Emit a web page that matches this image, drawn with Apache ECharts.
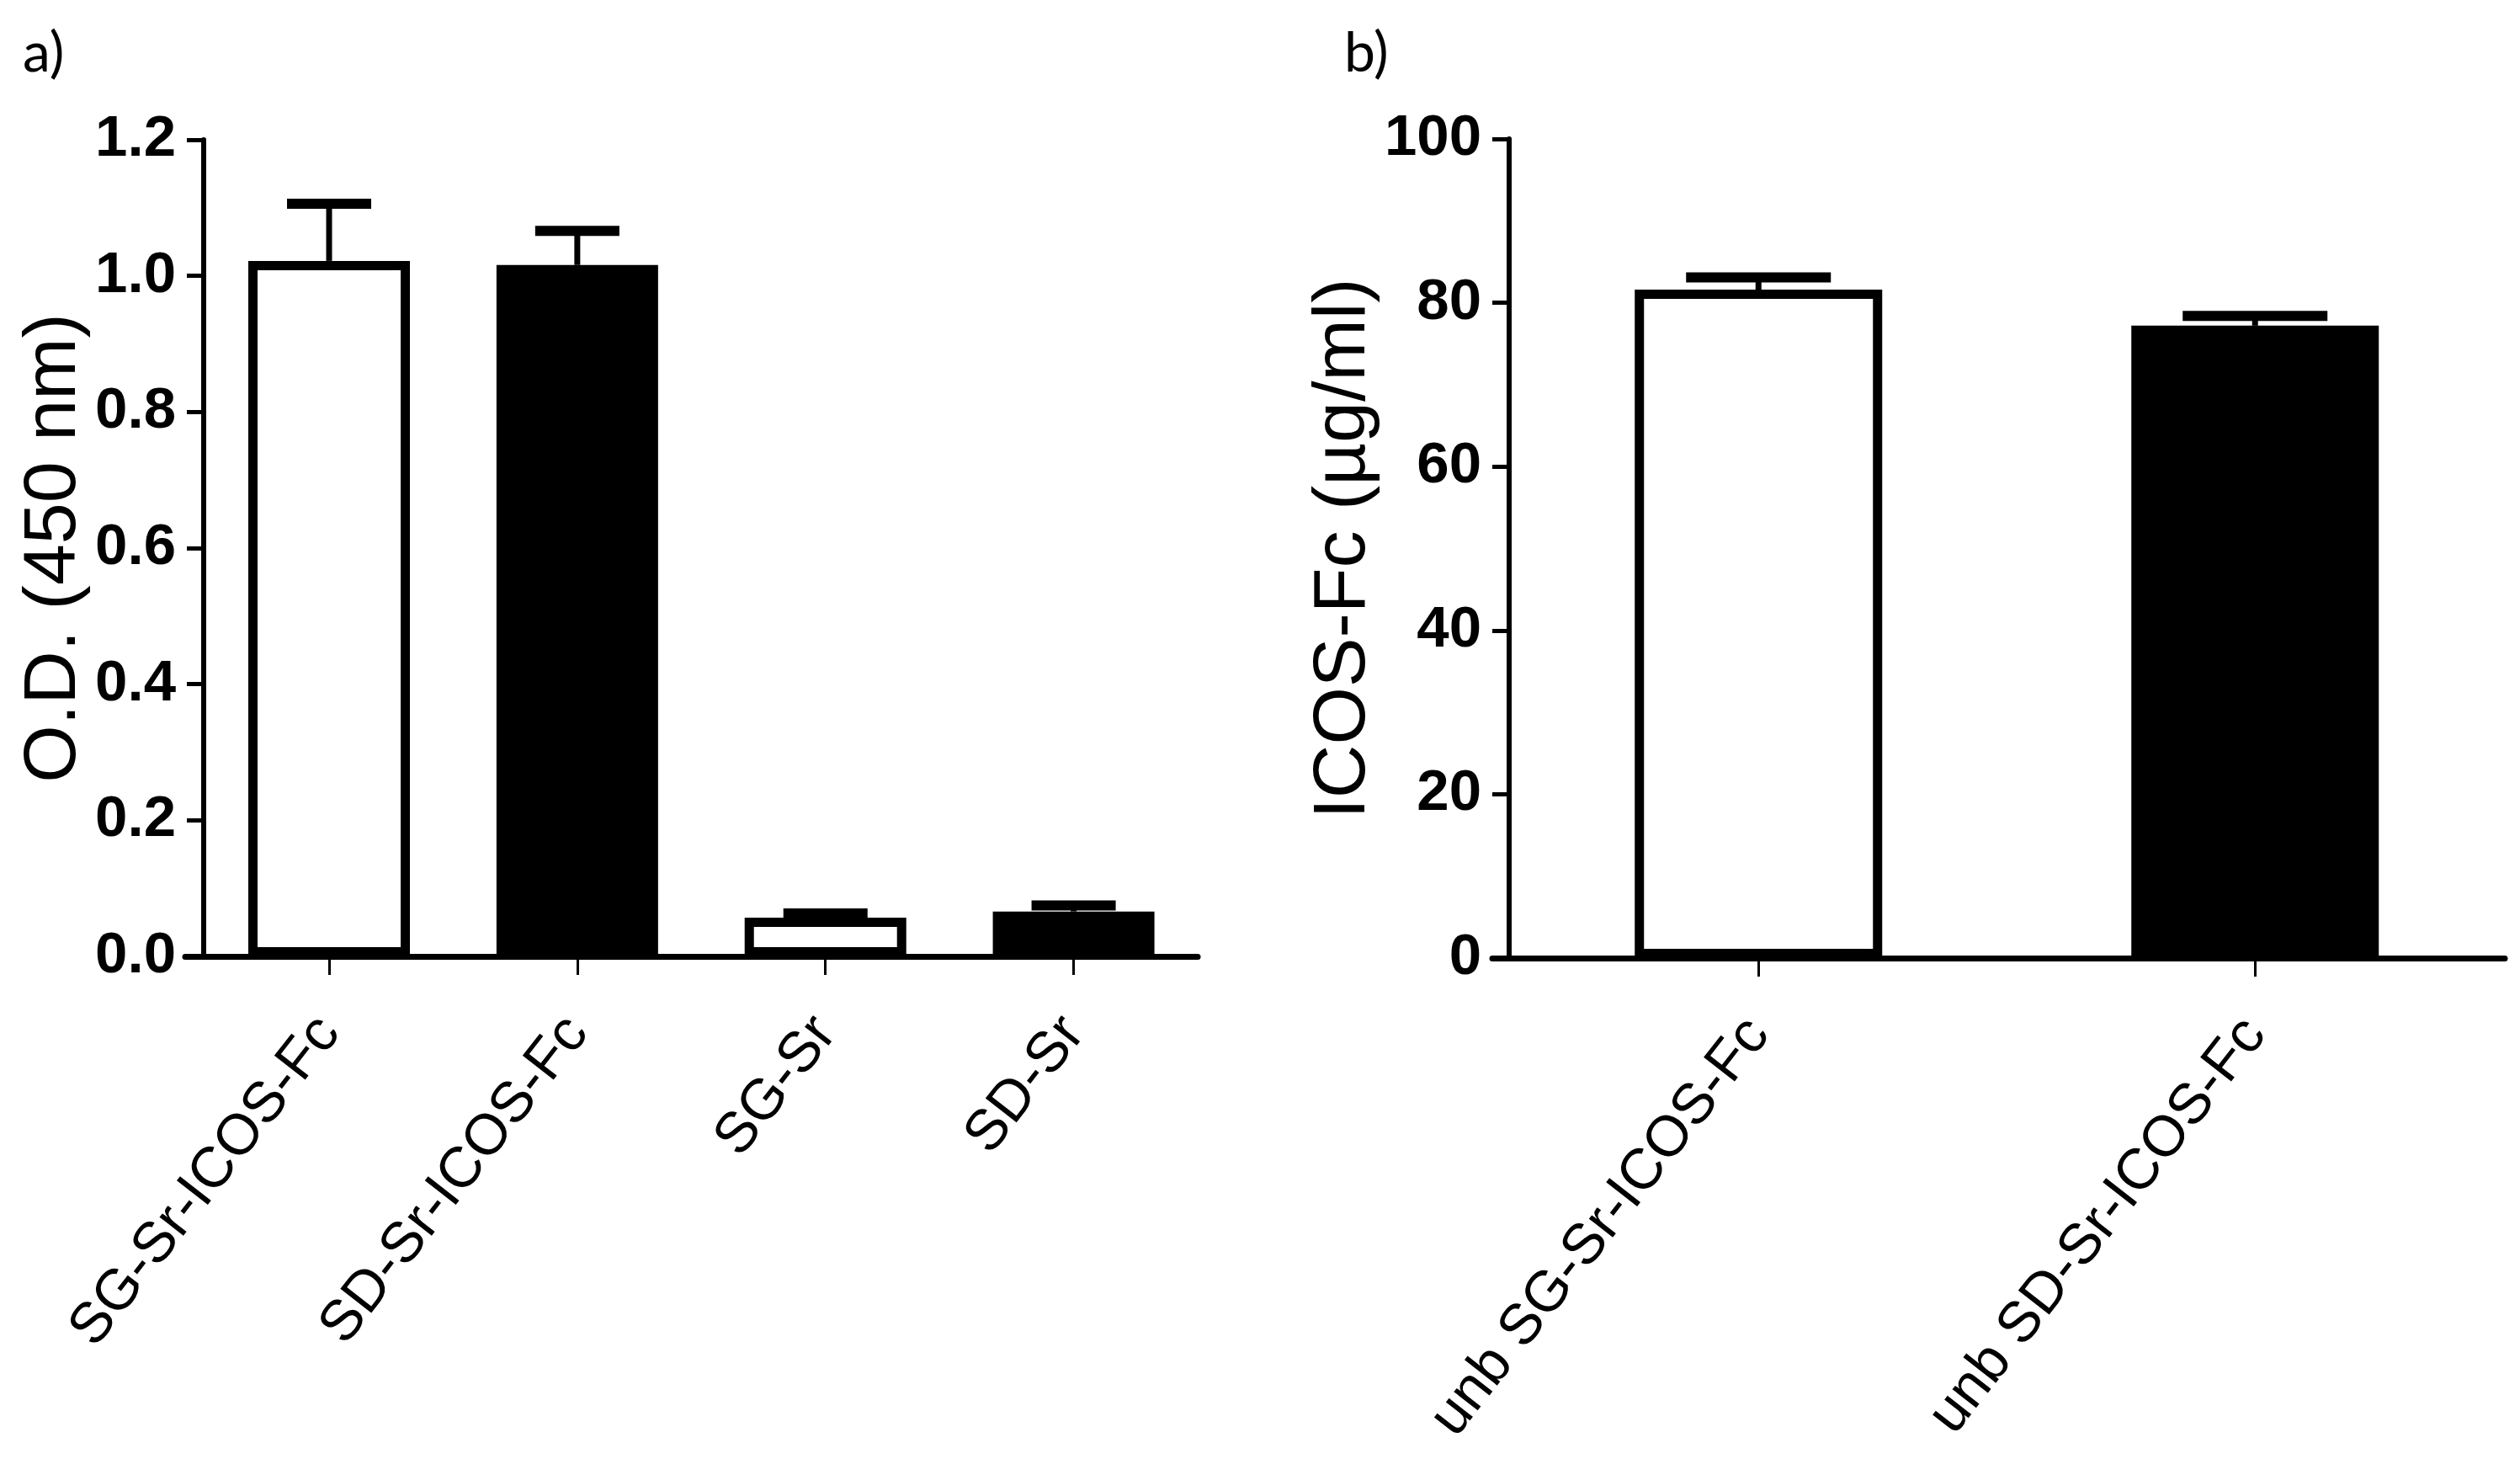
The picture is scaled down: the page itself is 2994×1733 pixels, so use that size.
<!DOCTYPE html>
<html>
<head>
<meta charset="utf-8">
<script src="https://cdn.jsdelivr.net/npm/echarts@6/dist/echarts.min.js"></script>
<style>
html,body{margin:0;padding:0;background:#fff;}
#chart{width:2994px;height:1733px;}
</style>
</head>
<body>
<div id="chart"></div>
<script>
// ---- Data ----
const catsA = ['SG-Sr-ICOS-Fc', 'SD-Sr-ICOS-Fc', 'SG-Sr', 'SD-Sr'];
const posA = [1, 2, 3, 4];
const meanA = [1.022, 1.016, 0.057, 0.066];
const errA = [0.084, 0.050, 0.006, 0.009];

const catsB = ['unb SG-Sr-ICOS-Fc', 'unb SD-Sr-ICOS-Fc'];
const posB = [1, 2];
const meanB = [81.6, 77.2];
const errB = [1.5, 1.2];

const yTicksA = [0, 0.2, 0.4, 0.6, 0.8, 1.0, 1.2];
const yTicksB = [0, 20, 40, 60, 80, 100];

const titleA = 'O.D. (450 nm)';
const titleB = 'ICOS-Fc (µg/ml)';

// ---- Styles ----
const fillA = ['#ffffff', '#000000', '#ffffff', '#000000'];
const fillB = ['#ffffff', '#000000'];
const tickFont = '"Liberation Sans Narrow", "Liberation Sans", Arial, sans-serif';
const labelFont = '"Liberation Sans", Arial, sans-serif';

const chart = echarts.init(document.getElementById('chart'));

function xAxisFor(gridIndex, cats, pos, min, max) {
  return {
    type: 'value', gridIndex, min, max,
    splitLine: {show: false},
    axisLine: {show: true, onZero: false, lineStyle: {color: '#000', width: 7}},
    axisTick: {show: true, customValues: pos, length: 22, lineStyle: {color: '#000', width: 3}},
    axisLabel: {
      show: true, customValues: pos, rotate: 52, margin: 80,
      formatter: v => cats[Math.round(v) - 1] || '',
      color: '#000', fontSize: 68, fontFamily: labelFont
    }
  };
}

function yAxisFor(gridIndex, ticks, offset, name, nameGap, fmt) {
  return {
    type: 'value', gridIndex,
    min: ticks[0], max: ticks[ticks.length - 1], interval: ticks[1] - ticks[0],
    offset,
    splitLine: {show: false},
    axisLine: {show: true, lineStyle: {color: '#000', width: 6}},
    axisTick: {show: true, length: 20, lineStyle: {color: '#000', width: 5}},
    axisLabel: {
      margin: 33, color: '#000', fontSize: 69, fontWeight: 'bold', fontFamily: tickFont,
      formatter: fmt
    },
    name, nameLocation: 'middle', nameGap,
    nameTextStyle: {color: '#000', fontSize: 88, fontWeight: 'normal', fontFamily: labelFont}
  };
}

function barData(pos, mean, fills) {
  return pos.map((p, i) => ({
    value: [p, mean[i]],
    itemStyle: {color: fills[i], borderColor: '#000', borderWidth: 11}
  }));
}

function errSeries(xi, yi, pos, mean, err, capW) {
  return {
    type: 'custom', xAxisIndex: xi, yAxisIndex: yi, z: 5,
    data: pos.map((p, i) => [p, mean[i], err[i]]),
    renderItem: function (params, api) {
      const x = api.value(0), m = api.value(1), e = api.value(2);
      const p0 = api.coord([x, m]);
      const p1 = api.coord([x, m + e]);
      return {
        type: 'group',
        children: [
          {type: 'line', shape: {x1: p0[0], y1: p0[1], x2: p1[0], y2: p1[1]},
           style: {stroke: '#000', lineWidth: 7}},
          {type: 'line', shape: {x1: p1[0] - capW / 2, y1: p1[1], x2: p1[0] + capW / 2, y2: p1[1]},
           style: {stroke: '#000', lineWidth: 12}}
        ]
      };
    }
  };
}

const option = {
  backgroundColor: '#fff',
  animation: false,
  title: [
    {text: 'a)', left: 22, top: 26, textStyle: {fontSize: 66, fontWeight: 'normal', color: '#000', fontFamily: 'Lato, "Liberation Sans Narrow", sans-serif'}},
    {text: 'b)', left: 1592, top: 26, textStyle: {fontSize: 66, fontWeight: 'normal', color: '#000', fontFamily: 'Lato, "Liberation Sans Narrow", sans-serif'}}
  ],
  grid: [
    {left: 220, right: 1571, top: 166, bottom: 597},
    {left: 1773, right: 18, top: 165, bottom: 595}
  ],
  xAxis: [
    xAxisFor(0, catsA, posA, 0.42, 4.5),
    xAxisFor(1, catsB, posB, 0.464, 2.503)
  ],
  yAxis: [
    yAxisFor(0, yTicksA, -22, titleA, 108, v => v.toFixed(1)),
    yAxisFor(1, yTicksB, -20, titleB, 102, v => String(v))
  ],
  series: [
    {type: 'bar', xAxisIndex: 0, yAxisIndex: 0, barWidth: 192, data: barData(posA, meanA, fillA)},
    errSeries(0, 0, posA, meanA, errA, 100),
    {type: 'bar', xAxisIndex: 1, yAxisIndex: 1, barWidth: 294, data: barData(posB, meanB, fillB)},
    errSeries(1, 1, posB, meanB, errB, 172)
  ]
};
chart.setOption(option);
</script>
</body>
</html>
